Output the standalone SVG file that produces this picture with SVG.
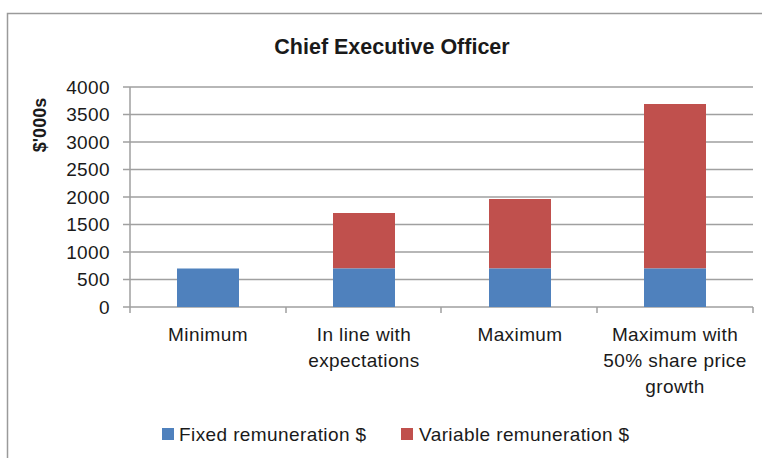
<svg xmlns="http://www.w3.org/2000/svg" width="762" height="458" viewBox="0 0 762 458">
<style>
text{font-family:"Liberation Sans",Arial,sans-serif;fill:#1a1a1a}
.tk{font-size:19px;letter-spacing:0.4px;text-anchor:end}
.cat{font-size:19px;letter-spacing:0.4px;text-anchor:middle}
.leg{font-size:19px;letter-spacing:0.4px}
.grid{stroke:#a0a0a0;stroke-width:1.5;fill:none}
.fix{fill:#4f81bd}
.var{fill:#c0504d}
</style>
<rect x="0" y="0" width="762" height="458" fill="#fff"/>
<path d="M7.5 458V13.5H762" fill="none" stroke="#9a9a9a" stroke-width="1.5"/>
<text x="392" y="54" font-size="21.5" font-weight="bold" text-anchor="middle">Chief Executive Officer</text>
<text transform="translate(46 125) rotate(-90)" font-size="18" font-weight="bold" text-anchor="middle">$'000s</text>
<g id="axes">
<path class="grid" d="M123 87H753M123 114.5H753M123 142H753M123 169.5H753M123 197H753M123 224.5H753M123 252H753M123 279.5H753M123 307H753"/>
<path class="grid" d="M130 87V307M130 307V313M286 307V313M441 307V313M597 307V313M753 307V313"/>
</g>
<g id="ylabels">
<text class="tk" x="110" y="93.5">4000</text>
<text class="tk" x="110" y="121">3500</text>
<text class="tk" x="110" y="148.5">3000</text>
<text class="tk" x="110" y="176">2500</text>
<text class="tk" x="110" y="203.5">2000</text>
<text class="tk" x="110" y="231">1500</text>
<text class="tk" x="110" y="258.5">1000</text>
<text class="tk" x="110" y="286">500</text>
<text class="tk" x="110" y="313.5">0</text>
</g>
<g id="bar-minimum">
<rect class="fix" x="177" y="268.5" width="62" height="38.5"/>
<text class="cat" x="208" y="341">Minimum</text>
</g>
<g id="bar-inline">
<rect class="var" x="333" y="213" width="62" height="55.5"/>
<rect class="fix" x="333" y="268.5" width="62" height="38.5"/>
<text class="cat" x="364" y="341">In line with</text>
<text class="cat" x="364" y="367">expectations</text>
</g>
<g id="bar-maximum">
<rect class="var" x="489" y="199" width="62" height="69.5"/>
<rect class="fix" x="489" y="268.5" width="62" height="38.5"/>
<text class="cat" x="520" y="341">Maximum</text>
</g>
<g id="bar-maxgrowth">
<rect class="var" x="644" y="104" width="62" height="164.5"/>
<rect class="fix" x="644" y="268.5" width="62" height="38.5"/>
<text class="cat" x="675" y="341">Maximum with</text>
<text class="cat" x="675" y="367">50% share price</text>
<text class="cat" x="675" y="393">growth</text>
</g>
<g id="legend">
<rect class="fix" x="162" y="428" width="12" height="12"/>
<text class="leg" x="179" y="441">Fixed remuneration $</text>
<rect class="var" x="401" y="428" width="12" height="12"/>
<text class="leg" x="419" y="441">Variable remuneration $</text>
</g>
</svg>
